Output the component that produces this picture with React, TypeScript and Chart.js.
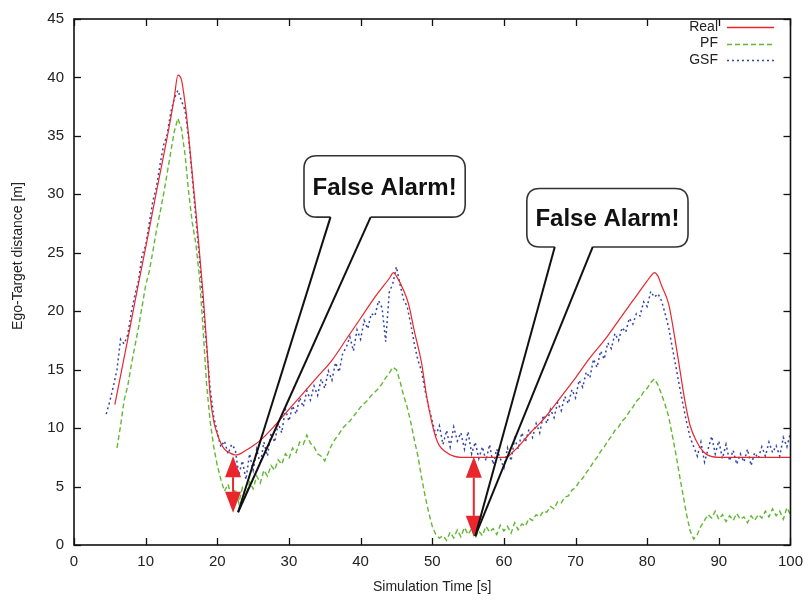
import React, { useEffect, useRef } from "react";
import { Chart, registerables } from "chart.js";
Chart.register(...registerables);

// ---------- data ----------
const realTime = [5.7, 6.5, 7.5, 8.5, 9.5, 10.5, 11.5, 12.5, 13.5, 14.0, 14.5, 15.0, 15.5, 16.0, 17.0, 18.0, 18.6, 19.0, 19.5, 20.0, 20.5, 21.0, 21.7, 22.5, 23.0, 24.0, 25.0, 26.0, 28.0, 30.0, 32.0, 34.0, 36.0, 38.0, 40.0, 42.0, 44.0, 44.6, 45.0, 46.0, 46.7, 47.5, 48.5, 49.2, 49.9, 50.5, 51.0, 51.8, 53.0, 54.0, 60.0, 60.6, 61.0, 62.0, 63.0, 64.0, 65.0, 66.0, 68.0, 70.0, 72.0, 74.0, 76.0, 78.0, 80.0, 80.5, 81.0, 81.5, 82.0, 83.0, 84.2, 85.3, 86.0, 86.9, 87.8, 88.8, 90.0, 100.0];
const realDist = [12.0, 14.5, 17.6, 20.8, 23.9, 27.0, 30.2, 33.3, 36.5, 38.3, 40.2, 39.8, 37.8, 35.0, 28.6, 21.6, 16.5, 12.8, 10.6, 9.5, 8.7, 8.2, 7.9, 7.7, 7.75, 8.1, 8.5, 8.95, 10.2, 11.6, 13.0, 14.4, 15.8, 17.6, 19.4, 21.2, 22.8, 23.3, 23.0, 21.8, 20.6, 18.3, 15.6, 12.8, 10.6, 9.2, 8.5, 8.0, 7.6, 7.5, 7.5, 7.55, 7.8, 8.4, 9.1, 9.8, 10.4, 11.1, 12.7, 14.3, 16.0, 17.5, 19.2, 20.9, 22.6, 23.0, 23.3, 23.0, 22.2, 20.6, 16.4, 12.2, 10.2, 8.85, 8.0, 7.6, 7.5, 7.5];

const sampleStep = 0.5;
const pfStart = 6.0;
const pfDist = [
  8.3, 10.2, 12.4, 13.6, 15.4, 17.0, 18.6, 20.4, 22.2, 23.4,
  25.1, 26.9, 28.4, 30.0, 31.8, 33.6, 35.4, 36.5, 35.6, 33.4,
  30.2, 27.6, 25.8, 23.0, 18.6, 13.8, 10.6, 8.4, 6.8, 5.6,
  4.6, 5.2, 4.1, 4.8, 3.6, 4.9, 4.2, 5.4, 4.8, 5.9,
  5.3, 6.4, 5.9, 6.8, 6.4, 7.3, 6.9, 7.8, 7.4, 8.3,
  7.9, 8.8, 8.6, 9.4, 8.7, 8.4, 7.8, 7.6, 7.2, 7.9,
  8.6, 9.1, 9.5, 10.0, 10.3, 10.6, 11.0, 11.4, 11.8, 12.1,
  12.4, 12.8, 13.1, 13.4, 13.8, 14.3, 14.7, 15.2, 15.0, 14.0,
  12.8, 11.8, 10.5, 9.0, 7.6, 5.8, 4.2, 2.8, 1.6, 0.9,
  0.6, 0.8, 0.4, 1.1, 0.6, 1.3, 0.7, 1.5, 0.9, 1.4,
  0.6, 1.2, 0.8, 1.6, 1.1, 1.4, 0.9, 1.7, 1.2, 1.6,
  1.0, 1.9, 1.3, 1.8, 1.6, 2.3, 2.1, 2.6, 2.4, 2.9,
  2.8, 3.3, 3.1, 3.7, 3.6, 4.1, 4.2, 4.7, 4.9, 5.4,
  5.7, 6.2, 6.6, 7.1, 7.5, 8.0, 8.4, 8.9, 9.3, 9.8,
  10.1, 10.6, 10.9, 11.4, 11.8, 12.3, 12.6, 13.1, 13.4, 13.9,
  14.2, 13.7, 12.9, 12.0, 11.0, 9.4, 7.8, 6.0, 4.3, 2.6,
  1.2, 0.5, 0.9, 1.6, 2.1, 2.6, 2.3, 2.9, 2.2, 2.6,
  2.0, 2.5, 2.1, 2.7, 2.2, 2.4, 1.9, 2.5, 2.1, 2.6,
  2.3, 2.9, 2.4, 3.1, 2.5, 2.9, 2.2, 3.2, 2.6,
];

const gsfStart = 4.5;
const gsfDist = [
  11.2, 12.3, 13.6, 15.0, 17.6, 17.2, 18.0, 19.9, 21.4, 22.6,
  24.8, 25.6, 27.5, 29.4, 30.6, 32.5, 34.2, 35.1, 37.0, 38.2,
  38.9, 38.0, 37.2, 34.8, 31.5, 28.0, 24.6, 20.8, 17.0, 13.4,
  11.0, 9.6, 8.4, 8.9, 7.8, 8.6, 8.2, 6.0, 7.2, 5.6,
  7.8, 6.4, 8.2, 6.9, 8.8, 7.6, 9.6, 8.8, 10.4, 9.6,
  11.6, 10.6, 11.9, 11.2, 12.6, 11.8, 13.2, 12.4, 13.6, 12.8,
  14.2, 13.4, 14.9, 14.1, 15.6, 14.8, 16.4, 16.9, 17.8, 16.6,
  18.4, 17.6, 19.2, 18.5, 19.8, 19.6, 20.9, 20.3, 17.4, 21.6,
  22.4, 23.8, 22.3, 21.0, 20.4, 18.9, 17.2, 15.8, 14.9, 13.2,
  11.8, 10.6, 9.4, 10.2, 8.6, 9.8, 8.4, 10.1, 8.9, 9.6,
  8.2, 9.7, 7.8, 8.8, 7.4, 8.4, 7.2, 8.6, 6.9, 8.2,
  7.4, 6.6, 8.3, 7.2, 9.1, 8.2, 9.6, 8.8, 9.9, 9.2,
  10.4, 9.6, 11.1, 10.4, 11.6, 10.9, 12.2, 11.5, 12.7, 12.1,
  13.3, 12.6, 14.1, 13.5, 14.8, 14.3, 15.9, 15.2, 16.6, 15.9,
  17.3, 16.8, 18.1, 17.5, 18.6, 18.2, 19.4, 18.9, 19.8, 19.6,
  20.8, 20.4, 21.7, 21.2, 21.5, 20.9, 19.8, 18.6, 16.9, 15.3,
  13.6, 12.0, 10.5, 9.2, 8.4, 7.6, 8.8, 7.1, 8.2, 9.3,
  7.8, 8.9, 7.4, 8.6, 7.2, 8.1, 6.9, 7.8, 7.1, 8.2,
  6.8, 7.9, 7.4, 8.4, 7.6, 8.8, 7.9, 8.5, 7.6, 9.2,
  8.4, 9.6,
];

const seriesLabels = ["Real", "PF", "GSF"];
const xLabel = "Simulation Time [s]";
const yLabel = "Ego-Target distance [m]";
const calloutText = "False Alarm!";

// annotation geometry in data units
const errorArrows = [
  { x: 22.2, yTop: 7.6, yBottom: 2.75 },
  { x: 55.8, yTop: 7.55, yBottom: 0.7 },
];
const callouts = [
  { left: 32.1, right: 54.6, top: 33.3, bottom: 28.05, tailL: 35.8, tailR: 41.4, tipX: 22.9, tipY: 2.8 },
  { left: 63.2, right: 85.7, top: 30.5, bottom: 25.5, tailL: 67.1, tailR: 72.4, tipX: 56.0, tipY: 0.75 },
];

// ---------- styles ----------
const RED = "#e8262c";
const GREEN = "#62b832";
const BLUE = "#3344a6";
const FONT = "'Liberation Sans', Arial, Helvetica, sans-serif";

const toPoints = (xs: number[], ys: number[]) => xs.map((x, i) => ({ x, y: ys[i] }));
const sampled = (start: number, ys: number[]) => ys.map((y, i) => ({ x: start + i * sampleStep, y }));

const decorPlugin = {
  id: "gnuplotDecor",
  afterDraw(chart: any) {
    const { ctx, chartArea: a, scales } = chart;
    const xs = scales.x;
    const ys = scales.y;
    const line = (x1: number, y1: number, x2: number, y2: number) => {
      ctx.beginPath();
      ctx.moveTo(x1, y1);
      ctx.lineTo(x2, y2);
      ctx.stroke();
    };
    ctx.save();
    // frame
    ctx.strokeStyle = "#111";
    ctx.lineWidth = 1.6;
    ctx.setLineDash([]);
    ctx.strokeRect(a.left, a.top, a.right - a.left, a.bottom - a.top);
    // inward ticks with mirror
    ctx.lineWidth = 1.3;
    const tl = 7;
    xs.ticks.forEach((t: any) => {
      const p = Math.round(xs.getPixelForValue(t.value)) + 0.5;
      line(p, a.bottom, p, a.bottom - tl);
      line(p, a.top, p, a.top + tl);
    });
    ys.ticks.forEach((t: any) => {
      const p = Math.round(ys.getPixelForValue(t.value)) + 0.5;
      line(a.left, p, a.left + tl, p);
      line(a.right, p, a.right - tl, p);
    });

    // axis titles
    ctx.fillStyle = "#222";
    ctx.font = `14px ${FONT}`;
    ctx.textAlign = "center";
    ctx.textBaseline = "middle";
    ctx.fillText(xLabel, (a.left + a.right) / 2, 587);
    ctx.save();
    ctx.translate(18, 256);
    ctx.rotate(-Math.PI / 2);
    ctx.fillText(yLabel, 0, 0);
    ctx.restore();

    // legend
    const legendItems = [
      { label: seriesLabels[0], color: RED, dash: [] as number[] },
      { label: seriesLabels[1], color: GREEN, dash: [5, 3] },
      { label: seriesLabels[2], color: BLUE, dash: [2, 3] },
    ];
    ctx.font = `14px ${FONT}`;
    ctx.textAlign = "right";
    legendItems.forEach((it, i) => {
      const y = 27 + i * 16.5;
      ctx.fillStyle = "#222";
      ctx.fillText(it.label, 718, y);
      ctx.strokeStyle = it.color;
      ctx.lineWidth = 1.3;
      ctx.setLineDash(it.dash);
      line(727, Math.round(y) + 0.5, 774, Math.round(y) + 0.5);
    });
    ctx.setLineDash([]);

    // error arrows
    errorArrows.forEach((ar) => {
      const x = xs.getPixelForValue(ar.x);
      const yt = ys.getPixelForValue(ar.yTop);
      const yb = ys.getPixelForValue(ar.yBottom);
      const hw = 8;
      const hl = 21;
      ctx.strokeStyle = RED;
      ctx.fillStyle = RED;
      ctx.lineWidth = 2;
      line(x, yt + hl, x, yb - hl);
      ctx.beginPath();
      ctx.moveTo(x, yt);
      ctx.lineTo(x - hw, yt + hl);
      ctx.lineTo(x + hw, yt + hl);
      ctx.closePath();
      ctx.fill();
      ctx.beginPath();
      ctx.moveTo(x, yb);
      ctx.lineTo(x - hw, yb - hl);
      ctx.lineTo(x + hw, yb - hl);
      ctx.closePath();
      ctx.fill();
    });

    // callouts
    callouts.forEach((c) => {
      const L = xs.getPixelForValue(c.left);
      const R = xs.getPixelForValue(c.right);
      const T = ys.getPixelForValue(c.top);
      const B = ys.getPixelForValue(c.bottom);
      const tL = xs.getPixelForValue(c.tailL);
      const tR = xs.getPixelForValue(c.tailR);
      const tx = xs.getPixelForValue(c.tipX);
      const ty = ys.getPixelForValue(c.tipY);
      const r = 13;
      ctx.beginPath();
      ctx.moveTo(tL, B);
      ctx.lineTo(L + r, B);
      ctx.quadraticCurveTo(L, B, L, B - r);
      ctx.lineTo(L, T + r);
      ctx.quadraticCurveTo(L, T, L + r, T);
      ctx.lineTo(R - r, T);
      ctx.quadraticCurveTo(R, T, R, T + r);
      ctx.lineTo(R, B - r);
      ctx.quadraticCurveTo(R, B, R - r, B);
      ctx.lineTo(tR, B);
      ctx.fillStyle = "#fff";
      ctx.fill();
      ctx.strokeStyle = "#333";
      ctx.lineWidth = 1.6;
      ctx.stroke();
      ctx.strokeStyle = "#111";
      ctx.lineWidth = 2;
      line(tL, B, tx, ty);
      line(tR, B, tx, ty);
      ctx.fillStyle = "#111";
      ctx.font = `bold 24px ${FONT}`;
      ctx.textAlign = "center";
      ctx.textBaseline = "middle";
      ctx.fillText(calloutText, (L + R) / 2, (T + B) / 2 + 2);
    });
    ctx.restore();
  },
};

export default function App() {
  const ref = useRef<HTMLCanvasElement>(null);
  useEffect(() => {
    document.body.style.margin = "0";
    if (!ref.current) return;
    const chart = new Chart(ref.current, {
      type: "line",
      data: {
        datasets: [
          {
            label: seriesLabels[0],
            data: toPoints(realTime, realDist),
            borderColor: RED,
            borderWidth: 1.2,
            pointRadius: 0,
            cubicInterpolationMode: "monotone",
          },
          {
            label: seriesLabels[1],
            data: sampled(pfStart, pfDist),
            borderColor: GREEN,
            borderWidth: 1.4,
            borderDash: [5, 3],
            pointRadius: 0,
            tension: 0,
          },
          {
            label: seriesLabels[2],
            data: sampled(gsfStart, gsfDist),
            borderColor: BLUE,
            borderWidth: 1.5,
            borderDash: [2, 3],
            pointRadius: 0,
            tension: 0,
          },
        ],
      },
      options: {
        animation: false,
        responsive: false,
        devicePixelRatio: 1,
        layout: { padding: { top: 11, right: 17, bottom: 0, left: 0 } },
        plugins: { legend: { display: false }, tooltip: { enabled: false } },
        scales: {
          x: {
            type: "linear",
            min: 0,
            max: 100,
            grid: { display: false, drawTicks: false },
            border: { display: false },
            ticks: { stepSize: 10, padding: 8, color: "#222", font: { size: 15, family: FONT } },
            afterFit: (s: any) => {
              s.height = 56;
            },
          },
          y: {
            min: 0,
            max: 45,
            grid: { display: false, drawTicks: false },
            border: { display: false },
            ticks: { stepSize: 5, padding: 10, color: "#222", font: { size: 15, family: FONT } },
            afterFit: (s: any) => {
              s.width = 74;
            },
          },
        },
      },
      plugins: [decorPlugin],
    } as any);
    return () => chart.destroy();
  }, []);
  return (
    <div style={{ width: 811, height: 601 }}>
      <canvas ref={ref} width={811} height={601} style={{ display: "block" }} />
    </div>
  );
}
